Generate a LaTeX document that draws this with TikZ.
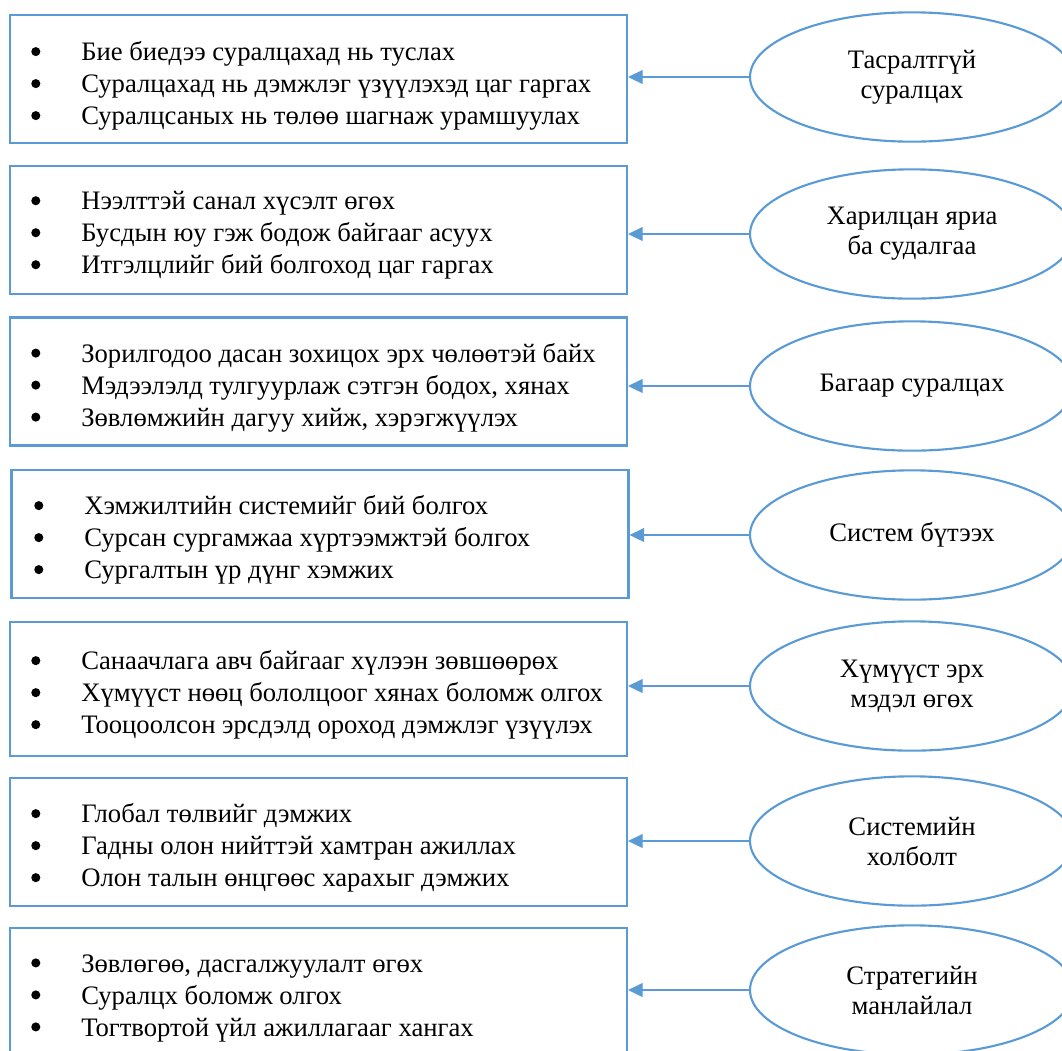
\documentclass[tikz,border=0pt]{standalone}
\usepackage{fontspec}
\setmainfont{Liberation Serif}
\usetikzlibrary{arrows.meta,shapes.geometric}
\definecolor{lineblue}{HTML}{5B9BD5}
\tikzset{
  box/.style={draw=lineblue, line width=1.6pt, minimum width=462.75pt, minimum height=96pt, inner sep=0pt},
  oval/.style={ellipse, draw=lineblue, line width=1.6pt, minimum width=243pt, minimum height=97pt, inner sep=0pt, align=center, font=\fontsize{20}{22.5}\selectfont},
  items/.style={anchor=west, align=left, inner sep=0pt, font=\fontsize{20}{24}\selectfont},
  arr/.style={draw=lineblue, line width=1.1pt, -{Triangle[length=11pt,width=10.5pt]}},
}
\newcommand{\bul}{\makebox[37.5pt][l]{\raisebox{0.17em}{\tikz\fill (0,0) circle (3.4pt);}}}
\begin{document}
\begin{tikzpicture}[x=0.75pt,y=-0.75pt]
\useasboundingbox (0,0) rectangle (1062,1050);
\clip (0,0) rectangle (1062,1050);
% row 1
\node[box] (b1) at (318.5,79) {};
\node[items] (t1) at (31,86) {\bul Бие биедээ суралцахад нь туслах\\\bul Суралцахад нь дэмжлэг үзүүлэхэд цаг гаргах\\\bul Суралцсаных нь төлөө шагнаж урамшуулах};
\node[oval] (e1) at (912,77) {Тасралтгүй\\суралцах};
\draw[arr] (e1.west) -- (e1.west -| b1.east);
% row 2
\node[box] (b2) at (318.5,230) {};
\node[items] (t2) at (31,235.5) {\bul Нээлттэй санал хүсэлт өгөх\\\bul Бусдын юу гэж бодож байгааг асуух\\\bul Итгэлцлийг бий болгоход цаг гаргах};
\node[oval] (e2) at (912,234) {Харилцан яриа\\ба судалгаа};
\draw[arr] (e2.west) -- (e2.west -| b2.east);
% row 3
\node[box] (b3) at (318.5,381.5) {};
\node[items] (t3) at (31,387.5) {\bul Зорилгодоо дасан зохицох эрх чөлөөтэй байх\\\bul Мэдээлэлд тулгуурлаж сэтгэн бодох, хянах\\\bul Зөвлөмжийн дагуу хийж, хэрэгжүүлэх};
\node[oval] (e3) at (912,386) {Багаар суралцах};
\draw[arr] (e3.west) -- (e3.west -| b3.east);
% row 4
\node[box] (b4) at (320,534) {};
\node[items] (t4) at (34,540) {\bul Хэмжилтийн системийг бий болгох\\\bul Сурсан сургамжаа хүртээмжтэй болгох\\\bul Сургалтын үр дүнг хэмжих};
\node[oval] (e4) at (912,535) {Систем бүтээх};
\draw[arr] (e4.west) -- (e4.west -| b4.east);
% row 5
\node[box, minimum height=101pt] (b5) at (318.5,689) {};
\node[items] (t5) at (31,695) {\bul Санаачлага авч байгааг хүлээн зөвшөөрөх\\\bul Хүмүүст нөөц бололцоог хянах боломж олгох\\\bul Тооцоолсон эрсдэлд ороход дэмжлэг үзүүлэх};
\node[oval] (e5) at (912,686) {Хүмүүст эрх\\мэдэл өгөх};
\draw[arr] (e5.west) -- (e5.west -| b5.east);
% row 6
\node[box] (b6) at (318.5,842) {};
\node[items] (t6) at (31,848) {\bul Глобал төлвийг дэмжих\\\bul Гадны олон нийттэй хамтран ажиллах\\\bul Олон талын өнцгөөс харахыг дэмжих};
\node[oval] (e6) at (912,841) {Системийн\\холболт};
\draw[arr] (e6.west) -- (e6.west -| b6.east);
% row 7
\node[box] (b7) at (318.5,992) {};
\node[items] (t7) at (31,998) {\bul Зөвлөгөө, дасгалжуулалт өгөх\\\bul Суралцх боломж олгох\\\bul Тогтвортой үйл ажиллагааг хангах};
\node[oval] (e7) at (912,990) {Стратегийн\\манлайлал};
\draw[arr] (e7.west) -- (e7.west -| b7.east);
\end{tikzpicture}
\end{document}
